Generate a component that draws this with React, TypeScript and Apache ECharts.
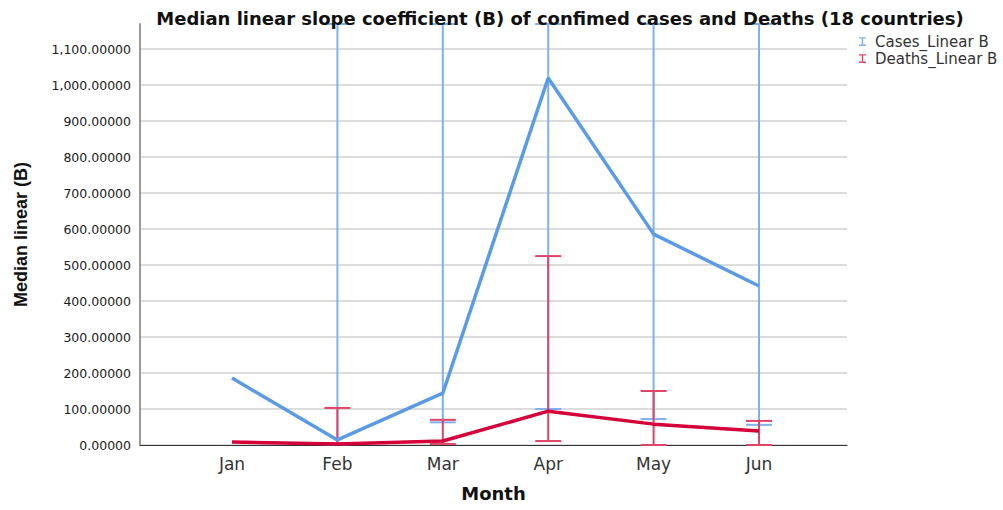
import React, { useEffect, useRef } from "react";
import * as echarts from "echarts";

const months = ["Jan", "Feb", "Mar", "Apr", "May", "Jun"];
const casesMedian = [186, 14, 144, 1020, 586, 442];
const deathsMedian = [8, 3, 11, 94, 58, 39];
const casesLower = [null, 2, 63, 100, 72, 56];
const casesUpper = [null, 1170, 1170, 1170, 1170, 1170];
const deathsLower = [null, 4, 3, 11, 0, 0];
const deathsUpper = [null, 103, 70, 525, 150, 67];
const yTicks = [0, 100, 200, 300, 400, 500, 600, 700, 800, 900, 1000, 1100];

const BLUE = "#5b9be6";
const BLUE_ERR = "#7db1ef";
const RED = "#d5003a";
const RED_ERR = "#e04468";
const FONT = "DejaVu Sans";

function errData(lo: (number | null)[], hi: (number | null)[]) {
  const out: number[][] = [];
  lo.forEach((l, i) => {
    const h = hi[i];
    if (l !== null && h !== null) out.push([i, l, h]);
  });
  return out;
}

function makeRender(color: string) {
  return (params: any, api: any) => {
    const x = api.value(0);
    const lo = api.coord([x, api.value(1)]);
    const hi = api.coord([x, api.value(2)]);
    const hw = 13;
    const style = { stroke: color, lineWidth: 2, fill: "none" };
    return {
      type: "group",
      children: [
        { type: "line", shape: { x1: lo[0], y1: lo[1], x2: hi[0], y2: hi[1] }, style },
        { type: "line", shape: { x1: hi[0] - hw, y1: hi[1], x2: hi[0] + hw, y2: hi[1] }, style },
        { type: "line", shape: { x1: lo[0] - hw, y1: lo[1], x2: lo[0] + hw, y2: lo[1] }, style },
      ],
    };
  };
}

const ICON = "path://M0,0H8V1.6H4.8V8.4H8V10H0V8.4H3.2V1.6H0Z";

export default function App() {
  const ref = useRef<HTMLDivElement>(null);
  useEffect(() => {
    document.body.style.margin = "0";
    const chart = echarts.init(ref.current!, null, { renderer: "svg" });
    chart.setOption({
      animation: false,
      backgroundColor: "#ffffff",
      title: {
        text: "Median linear slope coefficient (B) of confimed cases and Deaths (18 countries)",
        left: 555,
        top: 4,
        textAlign: "center",
        textStyle: { fontFamily: FONT, fontWeight: "bold", fontSize: 18, color: "#111" },
      },
      legend: {
        orient: "vertical",
        left: 854,
        top: 29,
        itemWidth: 7,
        itemHeight: 10,
        itemGap: 2,
        textStyle: { fontFamily: FONT, fontSize: 15, color: "#333", lineHeight: 15, padding: [0, 0, 0, 4] },
        data: [
          { name: "Cases_Linear B", icon: ICON },
          { name: "Deaths_Linear B", icon: ICON },
        ],
      },
      grid: { left: 140, right: 156, top: 24, bottom: 65 },
      xAxis: {
        type: "value",
        min: -0.873,
        max: 5.835,
        splitNumber: 6,
        name: "Month",
        nameLocation: "middle",
        nameGap: 39,
        nameTextStyle: { fontFamily: FONT, fontWeight: "bold", fontSize: 18, color: "#111" },
        axisLine: { show: true, onZero: false, lineStyle: { color: "#333", width: 1 } },
        axisTick: { show: false },
        splitLine: { show: false },
        axisLabel: {
          fontFamily: FONT,
          fontSize: 17,
          color: "#333",
          margin: 10,
          showMinLabel: false,
          showMaxLabel: false,
          formatter: (v: number) => (Number.isInteger(v) && months[v] ? months[v] : ""),
        },
      },
      yAxis: {
        type: "value",
        min: 0,
        max: 1170,
        interval: 100,
        name: "Median linear (B)",
        nameLocation: "middle",
        nameGap: 110,
        nameRotate: 90,
        nameTextStyle: { fontFamily: "Liberation Sans", fontWeight: "bold", fontSize: 18, color: "#111" },
        axisLine: { show: true, onZero: false, lineStyle: { color: "#999", width: 2 } },
        axisTick: { show: false },
        splitLine: { show: true, showMaxLine: false, lineStyle: { color: "#d0d0d0", width: 1.5 } },
        axisLabel: {
          fontFamily: FONT,
          fontSize: 12.5,
          color: "#1a1a1a",
          margin: 9,
          showMaxLabel: false,
          formatter: (v: number) =>
            yTicks.includes(v)
              ? v.toLocaleString("en-US", { minimumFractionDigits: 5, maximumFractionDigits: 5 })
              : "",
        },
      },
      series: [
        {
          name: "Cases_Linear B",
          type: "custom",
          renderItem: makeRender(BLUE_ERR),
          itemStyle: { color: BLUE_ERR },
          encode: { x: 0, y: [1, 2] },
          data: errData(casesLower, casesUpper),
          z: 1,
        },
        {
          name: "Deaths_Linear B",
          type: "custom",
          renderItem: makeRender(RED_ERR),
          itemStyle: { color: RED_ERR },
          encode: { x: 0, y: [1, 2] },
          data: errData(deathsLower, deathsUpper),
          z: 2,
        },
        {
          name: "Cases median",
          type: "line",
          symbol: "none",
          lineStyle: { color: BLUE, width: 3.5 },
          itemStyle: { color: BLUE },
          data: casesMedian.map((v, i) => [i, v]),
          z: 3,
        },
        {
          name: "Deaths median",
          type: "line",
          symbol: "none",
          lineStyle: { color: RED, width: 3.5 },
          itemStyle: { color: RED },
          data: deathsMedian.map((v, i) => [i, v]),
          z: 4,
        },
      ],
    });
    return () => chart.dispose();
  }, []);
  return <div ref={ref} style={{ width: 1003, height: 510 }} />;
}
